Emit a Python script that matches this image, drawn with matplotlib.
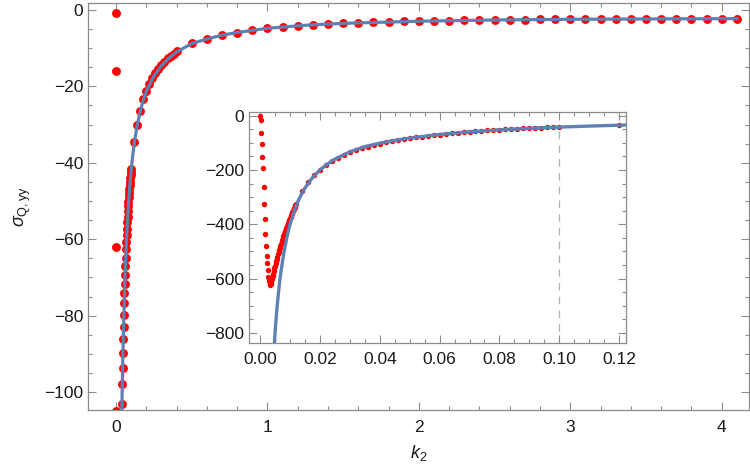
import numpy as np
import matplotlib
matplotlib.use("Agg")
import matplotlib.pyplot as plt
from matplotlib.ticker import MultipleLocator, FormatStrFormatter

plt.rcParams['font.family'] = ['Liberation Sans', 'DejaVu Sans']
plt.rcParams['mathtext.fontset'] = 'custom'
plt.rcParams['mathtext.rm'] = 'Liberation Sans'
plt.rcParams['mathtext.it'] = 'Liberation Sans:italic'

# ---------------- data ----------------
# fine grid: step 0.0002 on [0, 0.012], then step 0.002 on [0.014, 0.1]
fine_k_a = np.round(np.arange(0, 61) * 0.0002, 4)
fine_k_b = np.round(0.014 + np.arange(0, 44) * 0.002, 4)
fine_k = np.concatenate([fine_k_a, fine_k_b])

fine_desc = [-0.7, -16, -62, -104.9, -151, -194, -264, -326, -381, -434, -478,
             -515, -544, -568, -593, -610, -620, -624]
fine_rise = [-620, -612, -602, -592, -582, -572, -562, -553, -544, -535, -527,
             -519, -511, -503, -495, -487, -479, -472, -465, -458, -451, -444,
             -437, -431, -425, -419, -413, -407, -401, -395, -389, -383, -377,
             -372, -366, -361, -356, -350, -345, -340, -335, -330, -325]
fine_tail = [-277, -245, -220, -199, -182, -167, -155, -144, -135, -127, -120,
             -113.5, -108, -103, -98, -93.6, -89.9, -86, -82.9, -79.8, -76.8,
             -74.2, -71.8, -69.4, -67.1, -64.8, -62.6, -60.7, -58.9, -57.2,
             -55.6, -54.1, -52.7, -51.4, -50.2, -49.0, -47.9, -46.8, -45.8,
             -44.9, -44.0, -43.1, -42.3, -41.5]
fine_v = np.array(fine_desc + fine_rise + fine_tail)

# coarse grid beyond the dashed line
coarse_k = np.concatenate([np.round(0.12 + np.arange(0, 15) * 0.02, 3),
                           np.round(0.5 + np.arange(0, 37) * 0.1, 2)])
coarse_v = np.array([-34.5, -30.2, -26.4, -23.4, -21.1, -19.3, -17.8, -16.5,
                     -15.4, -14.4, -13.5, -12.7, -12.0, -11.4, -10.8,
                     -8.7, -7.6, -6.6, -5.9, -5.3, -4.8, -4.4, -4.1, -3.85,
                     -3.65, -3.5, -3.35, -3.2, -3.1, -3.0, -2.92, -2.84, -2.77,
                     -2.71, -2.65, -2.6, -2.55, -2.51, -2.47, -2.44, -2.41,
                     -2.39, -2.37, -2.35, -2.34, -2.33, -2.32, -2.31, -2.30,
                     -2.29, -2.28, -2.27])

pts_k = np.concatenate([fine_k, coarse_k])
pts_v = np.concatenate([fine_v, coarse_v])

# fitted curve
curve_k = [0.0047, 0.0050, 0.0055, 0.0060, 0.0065, 0.0070, 0.0080, 0.0090,
           0.0100, 0.0115, 0.0130, 0.0150, 0.0175, 0.0200, 0.0225, 0.0250,
           0.0300, 0.0350, 0.0400, 0.0450, 0.0500, 0.0600, 0.0700, 0.0800,
           0.0900, 0.1000, 0.1100, 0.1223, 0.1400, 0.1600, 0.1800, 0.2000,
           0.2500, 0.3000, 0.3500, 0.4000, 0.5000, 0.6000, 0.7000, 0.8000,
           1.0000, 1.2500, 1.5000, 2.0000, 2.5000, 3.0000, 3.5000, 4.1000]
curve_v = [-855, -800, -728, -668, -615, -572, -502, -446, -400, -348, -307,
           -266, -228, -200, -178, -160, -133, -114, -101, -91, -82.5, -69,
           -59.5, -52.2, -46.5, -42, -38.2, -34.4, -30.2, -26.5, -23.6, -21.3,
           -17.3, -14.6, -12.6, -11.0, -8.8, -7.6, -6.6, -5.9, -4.8, -4.0,
           -3.5, -2.95, -2.62, -2.45, -2.35, -2.27]

RED = '#ff0000'
BLUE = '#5e81b5'
FRAME = '#8c8c8c'
LABEL = '#1a1a1a'

fig = plt.figure(figsize=(7.5, 4.73), dpi=100)

def style(ax):
    for s in ax.spines.values():
        s.set_color(FRAME)
        s.set_linewidth(0.9)
    ax.tick_params(which='both', direction='in', top=True, right=True,
                   color=FRAME, labelcolor=LABEL, labelsize=12.5, width=0.8)
    ax.tick_params(which='major', length=6)
    ax.tick_params(which='minor', length=3)

# ---------------- main axes ----------------
ax = fig.add_axes([88/750, 1 - 410/473, (749-88)/750, (410-2.7)/473])
ax.plot(pts_k, pts_v, 'o', color=RED, ms=6.4, mec='none', zorder=2)
ax.plot(curve_k, curve_v, '-', color=BLUE, lw=2.3, zorder=3)
ax.set_xlim(-0.185, 4.18)
ax.set_ylim(-104.7, 1.9)
ax.xaxis.set_major_locator(MultipleLocator(1))
ax.xaxis.set_minor_locator(MultipleLocator(0.2))
ax.yaxis.set_major_locator(MultipleLocator(20))
ax.yaxis.set_minor_locator(MultipleLocator(5))
style(ax)
ax.tick_params(axis='x', pad=7)
ax.set_xlabel(r'$k_{\mathrm{2}}$', fontsize=13, color=LABEL, labelpad=6)
ax.set_ylabel(r'$\sigma_{\mathrm{Q,yy}}$', fontsize=13, color=LABEL, labelpad=8)

# ---------------- inset ----------------
ins = fig.add_axes([249/750, 1 - 343.3/473, (625.7-249)/750, (343.3-111.7)/473])
ins.set_facecolor('white')
ins.plot(pts_k, pts_v, 'o', color=RED, ms=3.9, mec='none', zorder=2)
ins.plot(curve_k, curve_v, '-', color=BLUE, lw=2.4, zorder=3)
ins.vlines(0.1, -845, fine_v[-1], colors='#b0b0b0', linestyles=(0, (6, 5)),
           lw=0.9, zorder=1)
ins.set_xlim(-0.0037, 0.1222)
ins.set_ylim(-838, 14.7)
ins.xaxis.set_major_locator(MultipleLocator(0.02))
ins.xaxis.set_minor_locator(MultipleLocator(0.005))
ins.xaxis.set_major_formatter(FormatStrFormatter('%.2f'))
ins.yaxis.set_major_locator(MultipleLocator(200))
ins.yaxis.set_minor_locator(MultipleLocator(50))
style(ins)
ins.tick_params(axis='x', pad=6)

fig.savefig('out.png', dpi=100)
